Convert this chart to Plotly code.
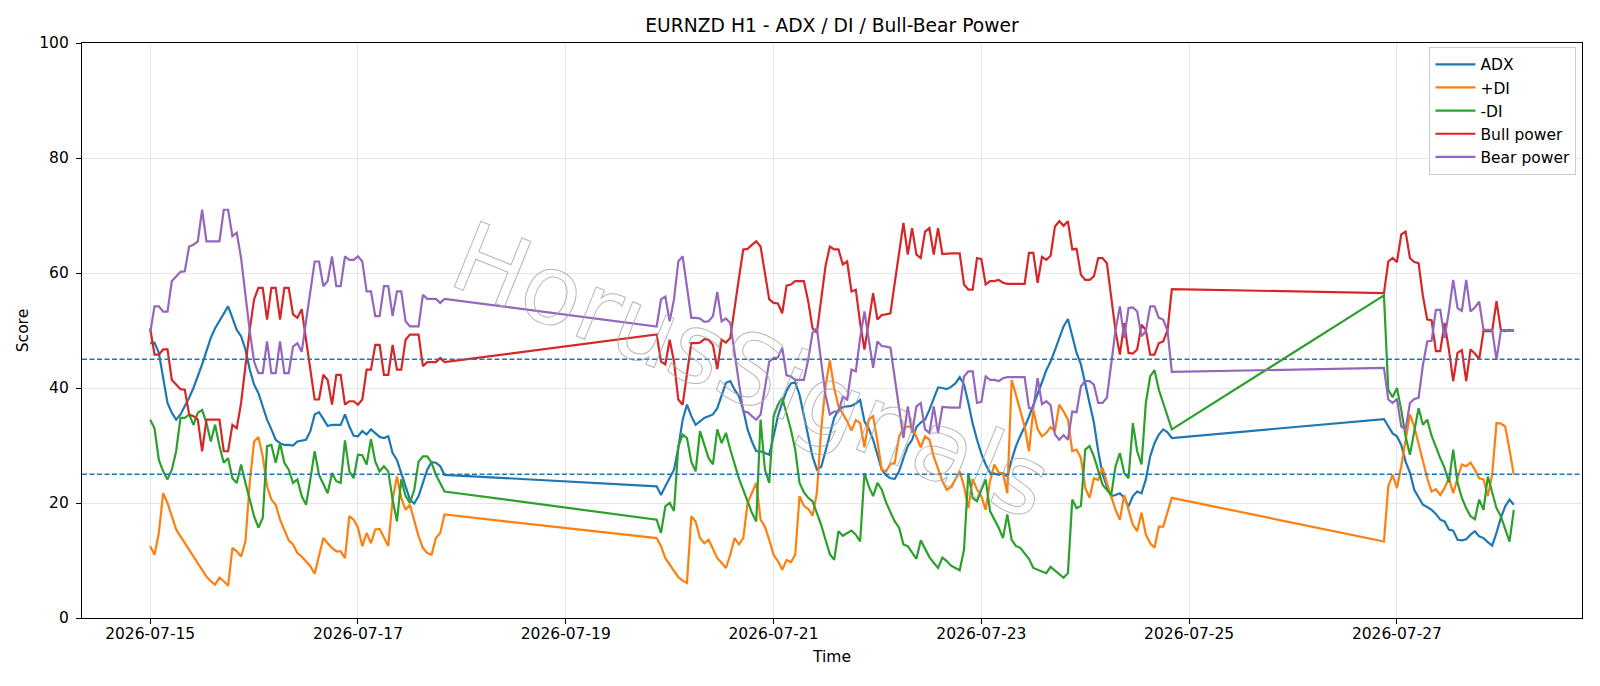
import pandas as pd
import plotly.graph_objects as go

# ---------------- data ----------------
segment_starts = ["2026-07-15 00:00", "2026-07-19 21:00", "2026-07-26 21:00"]
segment_lengths = [69, 120, 31]

adx = [
    47.8, 47.9, 46.1, 42.0, 37.4, 35.7, 34.5, 35.4, 36.8, 38.3,
    40.0, 42.0, 44.1, 46.4, 48.7, 50.4, 51.6, 52.8, 54.2, 52.2,
    50.1, 49.0, 46.7, 43.2, 40.6, 39.1, 36.8, 34.5, 32.8, 31.0,
    30.4, 30.1, 30.1, 30.0, 30.7, 30.9, 31.0, 32.5, 35.4, 35.8,
    34.5, 33.4, 33.6, 33.6, 33.6, 35.4, 33.3, 31.7, 31.6, 32.5,
    31.9, 32.8, 32.2, 31.5, 31.3, 31.6, 28.7, 27.5, 25.2, 22.9,
    20.6, 19.9, 21.2, 23.5, 25.8, 27.1, 27.0, 26.4, 24.9,
    22.9, 21.4, 22.9, 24.3, 25.8, 29.6, 34.5, 37.1, 35.1, 33.6,
    34.2, 34.8, 35.1, 35.4, 36.5, 38.8, 40.9, 41.2, 39.7, 38.6,
    36.2, 32.8, 30.7, 29.0, 29.0, 28.7, 28.4, 31.6, 35.1, 37.4,
    39.5, 40.8, 41.0, 38.8, 35.4, 31.6, 28.1, 25.8, 26.3, 29.0,
    31.9, 34.8, 36.2, 36.7, 36.8, 36.9, 37.3, 37.9, 34.2, 32.9,
    31.0, 28.4, 25.8, 24.8, 24.3, 24.2, 25.5, 27.8, 29.9, 31.0,
    33.2, 34.0, 34.5, 36.2, 38.0, 40.1, 40.0, 39.8, 40.2, 40.8,
    41.9, 40.6, 37.4, 33.8, 31.0, 28.6, 26.7, 25.3, 25.1, 24.9,
    25.2, 24.6, 27.5, 29.9, 31.7, 33.2, 35.0, 36.9, 39.0, 41.0,
    43.1, 44.6, 46.6, 48.7, 50.7, 52.0, 49.0, 46.1, 44.1, 40.9,
    37.5, 34.0, 29.0, 25.0, 22.9, 21.2, 21.4, 21.7, 20.9, 19.4,
    21.2, 22.0, 21.7, 24.1, 28.1, 30.4, 31.9, 32.8, 32.3, 31.3,
    34.6, 33.3, 32.1, 31.6, 30.1, 27.2, 25.3, 22.3, 20.9, 19.7,
    19.3, 18.8, 18.1, 17.1, 16.8, 15.4, 15.2, 13.6, 13.5, 13.7,
    14.5, 15.1, 14.2, 13.9, 13.2, 12.6, 14.8, 17.4, 19.4, 20.6,
    19.7,
]

plus_di = [
    12.5, 11.0, 14.8, 21.7, 20.0, 17.7, 15.4, 14.2, 13.0, 11.9,
    10.7, 9.6, 8.4, 7.2, 6.4, 5.8, 7.0, 6.4, 5.6, 12.2,
    11.6, 10.7, 13.3, 23.5, 30.7, 31.5, 28.1, 22.9, 20.6, 19.7,
    17.1, 15.4, 13.5, 12.8, 11.3, 10.7, 9.9, 9.0, 7.7, 10.7,
    13.9, 13.0, 12.2, 11.6, 11.6, 10.4, 17.7, 17.1, 15.7, 12.5,
    14.8, 13.0, 15.4, 15.5, 13.9, 12.5, 20.6, 24.6, 20.9, 18.8,
    19.7, 16.8, 14.2, 12.2, 11.3, 11.0, 13.9, 14.8, 18.0,
    13.9, 12.5, 10.4, 9.3, 8.4, 7.1, 6.5, 6.1, 17.7, 16.8,
    13.9, 13.0, 13.6, 11.9, 10.4, 9.6, 8.7, 11.0, 13.9, 12.8,
    13.9, 20.0, 21.7, 23.5, 17.1, 15.9, 13.6, 11.0, 9.9, 8.4,
    10.1, 9.7, 11.0, 21.2, 19.5, 19.0, 17.8, 21.7, 32.8, 40.3,
    44.8, 40.0, 36.8, 35.5, 34.2, 32.6, 34.4, 33.9, 29.7, 34.5,
    35.1, 30.7, 25.8, 25.5, 26.8, 27.0, 31.6, 33.0, 33.3, 33.3,
    31.5, 29.7, 31.6, 31.0, 28.1, 25.8, 23.8, 22.3, 22.8, 24.1,
    25.5, 22.9, 19.1, 24.2, 22.3, 21.2, 18.8, 23.8, 26.7, 25.3,
    25.1, 21.7, 41.4, 38.8, 36.1, 33.3, 29.0, 36.2, 32.8, 31.6,
    32.2, 33.2, 32.5, 37.1, 35.9, 34.5, 29.0, 29.3, 27.8, 22.6,
    20.9, 24.3, 24.0, 26.1, 23.5, 21.2, 18.8, 17.1, 21.4, 18.8,
    16.2, 15.1, 18.3, 14.5, 13.0, 12.2, 15.9, 15.9, 18.3, 20.9,
    13.3, 22.9, 24.9, 22.6, 26.4, 31.0, 35.4, 33.3, 30.4, 27.5,
    24.3, 22.0, 22.4, 21.4, 22.6, 24.3, 21.7, 24.3, 26.7, 26.4,
    27.0, 25.8, 24.3, 24.1, 21.2, 24.9, 33.9, 33.8, 33.3, 29.3,
    24.9,
]

minus_di = [
    34.5, 33.0, 27.5, 25.5, 24.1, 25.8, 29.0, 34.8, 34.8, 35.4,
    33.6, 35.7, 36.2, 33.9, 30.7, 33.6, 29.9, 27.0, 27.8, 24.3,
    23.5, 26.7, 23.5, 20.6, 17.7, 15.7, 17.4, 29.9, 30.1, 27.0,
    30.4, 27.0, 25.8, 23.5, 24.1, 21.2, 19.7, 24.1, 29.0, 24.9,
    23.2, 21.7, 25.2, 23.8, 23.5, 30.9, 25.5, 24.3, 28.4, 28.3,
    26.7, 31.1, 27.2, 25.5, 26.4, 25.5, 20.6, 16.8, 24.1, 21.2,
    20.0, 22.3, 27.2, 28.1, 28.1, 27.0, 24.9, 23.5, 22.0,
    17.1, 14.8, 19.4, 20.0, 18.6, 29.9, 31.9, 31.3, 27.2, 25.5,
    32.5, 30.1, 27.8, 26.7, 32.8, 30.4, 32.2, 29.3, 26.7, 24.3,
    22.3, 20.3, 18.3, 16.8, 34.5, 25.8, 23.5, 35.1, 37.1, 38.3,
    35.4, 32.8, 29.3, 23.5, 21.9, 20.9, 20.3, 18.3, 16.2, 13.6,
    11.1, 10.1, 15.1, 14.3, 14.7, 15.2, 14.5, 13.3, 25.2, 22.9,
    21.2, 23.5, 22.3, 20.1, 18.4, 16.8, 15.7, 12.8, 12.5, 11.4,
    10.3, 13.5, 11.9, 10.6, 9.6, 8.7, 10.5, 9.9, 9.1, 8.7,
    8.3, 11.9, 25.2, 20.9, 20.3, 22.3, 24.1, 18.6, 17.1, 15.7,
    13.9, 18.0, 13.6, 12.5, 12.2, 11.3, 10.3, 8.7, 8.4, 8.1,
    7.8, 8.9, 8.3, 7.7, 7.0, 7.8, 20.6, 19.1, 19.5, 29.3,
    29.9, 28.1, 25.5, 23.2, 22.3, 21.4, 26.4, 28.7, 25.2, 24.3,
    33.9, 29.0, 26.7, 37.4, 42.0, 43.1, 39.7, 37.4, 35.1, 32.8,
    56.1, 39.7, 38.4, 40.0, 36.2, 31.6, 28.4, 32.2, 36.5, 33.6,
    34.5, 31.7, 29.6, 27.8, 26.1, 23.6, 29.3, 23.5, 20.9, 19.1,
    17.7, 17.2, 20.6, 18.8, 24.6, 21.7, 19.1, 17.7, 15.4, 13.3,
    18.8,
]

bull_power = [
    50.4, 45.8, 45.8, 46.7, 46.7, 41.4, 40.6, 39.8, 39.7, 35.4,
    35.1, 34.5, 29.0, 34.5, 34.5, 34.5, 34.5, 29.0, 29.0, 33.6,
    33.0, 37.4, 43.8, 50.1, 55.4, 57.4, 57.4, 51.9, 57.4, 57.4,
    51.9, 57.4, 57.4, 52.8, 52.2, 53.7, 48.4, 43.2, 38.0, 38.0,
    42.3, 41.4, 37.1, 42.3, 42.3, 37.1, 37.7, 37.7, 37.1, 38.0,
    43.2, 43.2, 47.5, 47.5, 42.3, 42.3, 47.5, 43.2, 43.2, 48.4,
    49.3, 49.3, 49.3, 43.8, 44.5, 44.5, 44.5, 45.2, 44.5,
    49.3, 44.6, 44.1, 48.4, 44.6, 38.0, 37.1, 42.9, 47.8, 47.8,
    47.9, 48.5, 48.4, 47.5, 43.3, 48.4, 47.9, 48.7, 54.2, 59.1,
    64.1, 64.2, 64.9, 65.5, 64.6, 60.0, 55.4, 54.8, 54.7, 53.0,
    57.8, 58.0, 58.6, 58.6, 58.6, 55.1, 50.4, 49.6, 55.4, 61.2,
    64.6, 64.1, 64.1, 61.5, 62.0, 56.8, 57.1, 51.3, 46.7, 51.9,
    56.5, 51.9, 52.7, 52.8, 53.0, 58.3, 63.5, 68.7, 63.2, 67.8,
    63.2, 62.6, 67.2, 67.8, 63.2, 67.8, 63.3, 63.4, 63.4, 63.4,
    63.4, 58.0, 57.1, 57.1, 62.6, 62.4, 58.0, 58.6, 58.6, 58.8,
    58.3, 58.1, 58.1, 58.1, 58.1, 58.1, 63.5, 63.5, 58.3, 62.8,
    62.3, 63.0, 68.1, 69.0, 68.2, 69.0, 64.1, 64.2, 59.7, 58.8,
    58.8, 59.4, 62.6, 62.6, 61.7, 55.4, 49.9, 45.8, 51.3, 46.1,
    46.0, 46.7, 51.0, 50.1, 45.8, 45.8, 47.8, 48.1, 50.0, 57.2,
    56.5, 62.0, 62.6, 61.9, 66.7, 67.2, 62.6, 61.9, 61.7, 56.0,
    51.9, 51.8, 46.4, 46.4, 51.3, 46.7, 41.2, 46.1, 46.6, 41.2,
    46.7, 46.0, 45.0, 49.9, 49.9, 49.9, 55.1, 50.1, 49.9, 50.1,
    49.9,
]

bear_power = [
    49.6, 54.2, 54.2, 53.3, 53.3, 58.6, 59.4, 60.2, 60.3, 64.6,
    64.9, 65.5, 71.0, 65.5, 65.5, 65.5, 65.5, 71.0, 71.0, 66.4,
    67.0, 62.6, 56.2, 49.9, 44.6, 42.6, 42.6, 48.1, 42.6, 42.6,
    48.1, 42.6, 42.6, 47.2, 47.8, 46.3, 51.6, 56.8, 62.0, 62.0,
    57.7, 58.6, 62.9, 57.7, 57.7, 62.9, 62.3, 62.3, 62.9, 62.0,
    56.8, 56.8, 52.5, 52.5, 57.7, 57.7, 52.5, 56.8, 56.8, 51.6,
    50.7, 50.7, 50.7, 56.2, 55.5, 55.5, 55.5, 54.8, 55.5,
    50.7, 55.4, 55.9, 51.6, 55.4, 62.0, 62.9, 57.1, 52.2, 52.2,
    52.1, 51.5, 51.6, 52.5, 56.7, 51.6, 52.1, 51.3, 45.8, 40.9,
    35.9, 35.8, 35.1, 34.5, 35.4, 40.0, 44.6, 45.2, 45.3, 47.0,
    42.2, 42.0, 41.4, 41.4, 41.4, 44.9, 49.6, 50.4, 44.6, 38.8,
    35.4, 35.9, 35.9, 38.5, 38.0, 43.2, 42.9, 48.7, 53.3, 48.1,
    43.5, 48.1, 47.3, 47.2, 47.0, 41.7, 36.5, 31.3, 36.8, 32.2,
    36.8, 37.4, 32.8, 32.2, 36.8, 32.2, 36.7, 36.6, 36.6, 36.6,
    36.6, 42.0, 42.9, 42.9, 37.4, 37.6, 42.0, 41.4, 41.4, 41.2,
    41.7, 41.9, 41.9, 41.9, 41.9, 41.9, 36.5, 36.5, 41.7, 37.2,
    37.7, 37.0, 31.9, 31.0, 31.8, 31.0, 35.9, 35.8, 40.3, 41.2,
    41.2, 40.6, 37.4, 37.4, 38.3, 44.6, 50.1, 54.2, 48.7, 53.9,
    54.0, 53.3, 49.0, 49.9, 54.2, 54.2, 52.2, 51.9, 50.0, 42.8,
    43.5, 38.0, 37.4, 38.1, 33.3, 32.8, 37.4, 38.1, 38.3, 44.0,
    48.1, 48.2, 53.6, 53.6, 48.7, 53.3, 58.8, 53.9, 53.4, 58.8,
    53.3, 54.0, 55.0, 50.1, 50.1, 50.1, 44.9, 49.9, 50.1, 49.9,
    50.1,
]

series_names = ["ADX", "+DI", "-DI", "Bull power", "Bear power"]
series_colors = ["#1f77b4", "#ff7f0e", "#2ca02c", "#d62728", "#9467bd"]
threshold_levels = [45, 25]
y_ticks = [0, 20, 40, 60, 80, 100]
title_text = "EURNZD H1 - ADX / DI / Bull-Bear Power"
watermark_text = "HorusSignals"

# ---------------- build ----------------
times = []
for start, n in zip(segment_starts, segment_lengths):
    times.extend(pd.date_range(start, periods=n, freq="h"))

FONT = "DejaVu Sans"
FS = 15.5

fig = go.Figure()
for name, vals, col in zip(series_names,
                           [adx, plus_di, minus_di, bull_power, bear_power],
                           series_colors):
    fig.add_trace(go.Scatter(x=times, y=vals, mode="lines", name=name,
                             line=dict(color=col, width=2.2)))

for lvl in threshold_levels:
    fig.add_shape(type="line", xref="paper", x0=0, x1=1, yref="y", y0=lvl, y1=lvl,
                  line=dict(color="#1f77b4", width=1.4, dash="5px,2.5px"), layer="above")

t0, t1 = times[0], times[-1]
pad = (t1 - t0) * 0.05
xr = [t0 - pad, t1 + pad]

fig.add_annotation(
    text=watermark_text, xref="paper", yref="paper", x=0.446, y=0.43,
    xanchor="center", yanchor="middle", showarrow=False, textangle=22,
    font=dict(family=FONT, size=97, color="rgba(170,170,170,0.5)"),
)

axis_common = dict(
    showline=True, linecolor="black", linewidth=1.1, mirror=True,
    ticks="outside", ticklen=5, tickwidth=1.1, tickcolor="black",
    showgrid=True, gridcolor="#e6e6e6", gridwidth=1, zeroline=False,
    tickfont=dict(family=FONT, size=FS, color="black"),
)

fig.update_layout(
    width=1600, height=686,
    margin=dict(l=82, r=18, t=43, b=68),
    paper_bgcolor="white", plot_bgcolor="white",
    font=dict(family=FONT, size=FS, color="black"),
    title=dict(text=title_text, x=0.5, xref="paper", xanchor="center",
               y=1 - 25.5 / 686, yref="container", yanchor="middle",
               font=dict(family=FONT, size=18.7, color="black")),
    xaxis=dict(type="date", range=xr, tickformat="%Y-%m-%d",
               tick0="2026-07-15", dtick=2 * 86400000, ticklabelstandoff=-4,
               title=dict(text="Time", standoff=9,
                          font=dict(family=FONT, size=FS, color="black")),
               **axis_common),
    yaxis=dict(range=[0, 100], tickvals=y_ticks, ticklabelstandoff=4,
               title=dict(text="Score", standoff=6,
                          font=dict(family=FONT, size=FS, color="black")),
               **axis_common),
    legend=dict(x=0.9963, y=0.9935, xanchor="right", yanchor="top",
                bgcolor="rgba(255,255,255,0.8)", bordercolor="#cccccc", borderwidth=1,
                font=dict(family=FONT, size=FS, color="black"),
                itemwidth=40),
    showlegend=True,
)

post = """
var gd = document.getElementById('{plot_id}');
gd.querySelectorAll('.annotation-text').forEach(function(t){
  t.style.fill = 'none';
  t.style.stroke = 'rgba(165,165,165,0.8)';
  t.style.strokeWidth = '1px';
});
"""

fig.write_html("out.html", post_script=post)
